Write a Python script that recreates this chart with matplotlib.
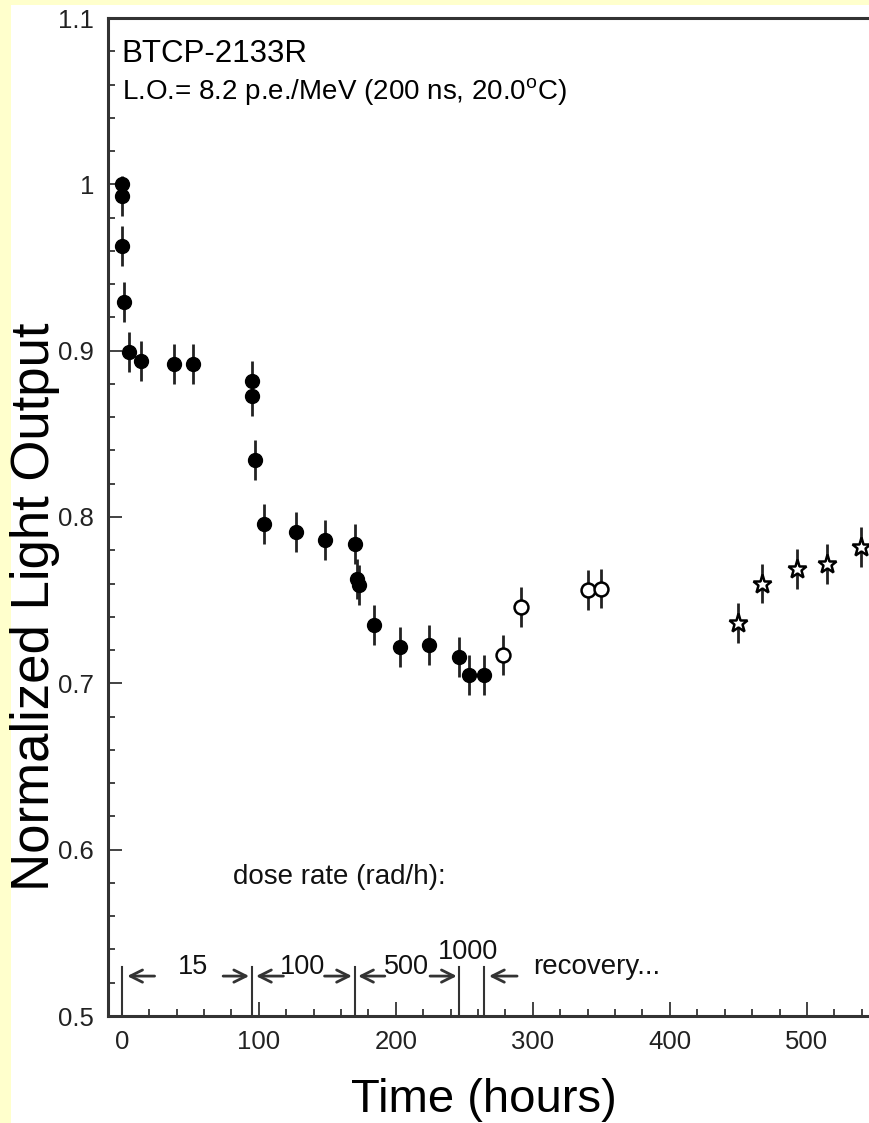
import matplotlib
matplotlib.use("Agg")
import matplotlib.pyplot as plt
from matplotlib.patches import Rectangle

plt.rcParams['font.family'] = ['Liberation Sans', 'DejaVu Sans']
plt.rcParams['mathtext.fontset'] = 'custom'
plt.rcParams['mathtext.rm'] = 'Liberation Sans'

# irradiation (filled circles)
t_irr = [0, 0, 0, 1.5, 5, 14, 38, 52, 95, 95, 97, 104, 127, 148, 170.5, 171.5, 173.5,
         184, 203, 224.5, 246, 253.5, 264]
lo_irr = [1.000, 0.993, 0.963, 0.929, 0.899, 0.894, 0.892, 0.892, 0.882, 0.873, 0.834,
          0.796, 0.791, 0.786, 0.784, 0.763, 0.759, 0.735, 0.722, 0.723, 0.716, 0.705, 0.705]
err_irr = [0] + [0.012] * 22

# recovery (open circles)
t_rec = [278, 291, 340, 350]
lo_rec = [0.717, 0.746, 0.756, 0.757]
err_rec = [0.012] * 4

# later recovery (open stars)
t_star = [450, 467, 493, 514.5, 539.5]
lo_star = [0.736, 0.760, 0.769, 0.772, 0.782]
err_star = [0.012] * 5

# dose rate periods
dose_bounds = [0, 95, 170, 246, 264]
dose_labels = ['15', '100', '500', '1000']

fig = plt.figure(figsize=(8.7, 11.23), dpi=100, facecolor='#ffffcc')
fig.patches.append(Rectangle((11 / 870, 0), 1, 1 - 5 / 1123, transform=fig.transFigure,
                             facecolor='white', edgecolor='none', zorder=-10))

ax = fig.add_axes([108 / 870, 107 / 1123, 836 / 870, 998 / 1123])
ax.set_facecolor('white')
ax.set_xlim(-10, 600)
ax.set_ylim(0.5, 1.1)

ekw = dict(ls='none', ecolor='#222222', elinewidth=2.0, capsize=0)
ax.errorbar(t_irr, lo_irr, yerr=err_irr, fmt='o', ms=10, mfc='black', mec='black', **ekw)
ax.errorbar(t_rec, lo_rec, yerr=err_rec, fmt='o', ms=10, mfc='white', mec='black',
            mew=1.8, **ekw)
ax.errorbar(t_star, lo_star, yerr=err_star, fmt='*', ms=14, mfc='white', mec='black',
            mew=1.8, **ekw)

# dose-rate markers
for b in dose_bounds:
    ax.plot([b, b], [0.5, 0.5295], color='#333333', lw=1.5)
ay = 0.524
akw = dict(arrowstyle='->', color='#333333', lw=2, mutation_scale=22, shrinkA=0, shrinkB=0)
segs = [(24, 4), (74, 93), (118, 98), (148, 168), (192, 172.5), (225, 244.5), (288.5, 268)]
for x0, x1 in segs:
    ax.annotate('', xy=(x1, ay), xytext=(x0, ay), arrowprops=akw)
lab_x = [52, 132, 207.5, 253]
lab_y = [0.5295, 0.5295, 0.5295, 0.5385]
for x, y, s in zip(lab_x, lab_y, dose_labels):
    ax.text(x, y, s, ha='center', va='center', fontsize=19.5, color='#111111')
ax.text(300, 0.5295, 'recovery...', ha='left', va='center', fontsize=20, color='#111111')
ax.text(159, 0.5836, 'dose rate (rad/h):', ha='center', va='center', fontsize=20,
        color='#111111')

ax.text(0, 1.0784, 'BTCP-2133R', ha='left', va='center', fontsize=22.5, color='black')
ax.text(0, 1.0555, r'L.O.= 8.2 p.e./MeV (200 ns, 20.0$^{\rm o}$C)', ha='left', va='center',
        fontsize=20, color='black')

ax.set_xticks([0, 100, 200, 300, 400, 500])
ax.set_xticks(range(-0, 600, 20), minor=True)
ax.set_yticks([0.5, 0.6, 0.7, 0.8, 0.9, 1.0, 1.1])
ax.set_yticklabels(['0.5', '0.6', '0.7', '0.8', '0.9', '1', '1.1'])
ax.set_yticks([0.5 + 0.02 * i for i in range(31)], minor=True)
ax.tick_params(which='both', direction='in', labelsize=18.5, colors='#222222', width=1.2,
               top=False, right=False)
ax.tick_params(which='major', length=10)
ax.tick_params(which='minor', length=5)
ax.tick_params(axis='x', pad=10)
ax.tick_params(axis='y', pad=10)

for side in ['left', 'bottom', 'top']:
    ax.spines[side].set_linewidth(2.2)
    ax.spines[side].set_color('#333333')
ax.spines['right'].set_visible(False)

fig.text(35 / 870, 1 - 607 / 1123, 'Normalized Light Output', rotation=90, ha='center',
         va='center', fontsize=38, color='black')
fig.text(484 / 870, 1 - 1100 / 1123, 'Time (hours)', ha='center', va='center', fontsize=34,
         color='black')

fig.savefig('out.png', dpi=100, facecolor=fig.get_facecolor())
